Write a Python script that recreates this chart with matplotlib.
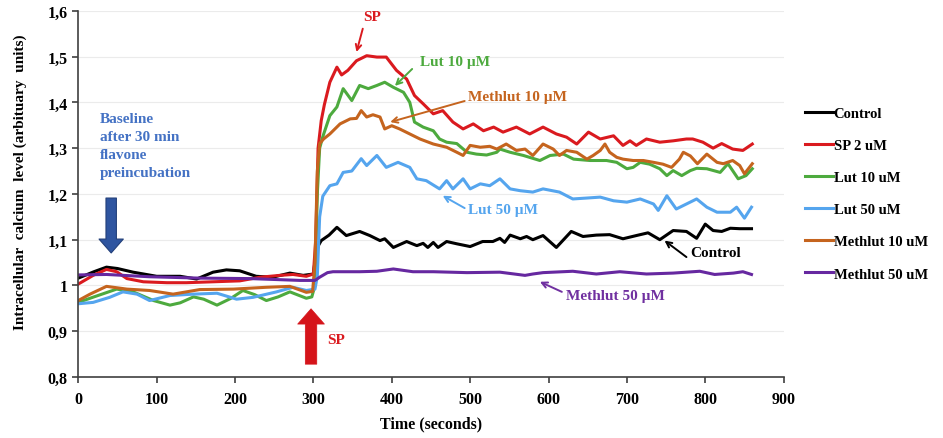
import numpy as np
import matplotlib
matplotlib.use('Agg')
import matplotlib.pyplot as plt

plt.rcParams['font.family'] = ['Liberation Serif', 'DejaVu Serif']
plt.rcParams['font.weight'] = 'bold'

# Data (time in seconds, intracellular calcium, arbitrary units)
t_control = [0, 20, 36, 50, 70, 100, 130, 151, 172, 189, 206, 227, 248, 270, 287, 300, 304, 310,
             320, 330, 342, 359, 372, 385, 391, 402, 419, 432, 440, 446, 453, 459, 470, 483, 500,
             516, 529, 538, 544, 551, 564, 572, 580, 593, 610, 629, 644, 661, 678, 695, 712, 727,
             742, 759, 776, 789, 800, 810, 821, 832, 844, 859]
v_control = [1.016, 1.03, 1.04, 1.037, 1.029, 1.02, 1.02, 1.014, 1.029, 1.034, 1.032, 1.02, 1.018,
             1.027, 1.022, 1.025, 1.08, 1.098, 1.11, 1.127, 1.109, 1.118, 1.109, 1.098, 1.102, 1.083,
             1.096, 1.087, 1.092, 1.083, 1.094, 1.083, 1.096, 1.091, 1.085, 1.096, 1.096, 1.103,
             1.094, 1.110, 1.102, 1.107, 1.10, 1.109, 1.083, 1.118, 1.107, 1.110, 1.111, 1.102,
             1.109, 1.115, 1.100, 1.120, 1.118, 1.103, 1.134, 1.12, 1.118, 1.125, 1.124, 1.124]

t_sp = [0, 19, 36, 49, 62, 83, 113, 138, 172, 206, 232, 257, 274, 291, 300, 303, 306, 310, 314,
        321, 330, 336, 344, 355, 368, 381, 393, 406, 419, 429, 440, 453, 465, 478, 491, 504, 517,
        530, 542, 559, 576, 593, 610, 623, 636, 651, 666, 683, 695, 704, 712, 725, 742, 759, 776,
        784, 797, 810, 821, 835, 848, 860]
v_sp = [1.003, 1.022, 1.035, 1.03, 1.015, 1.008, 1.006, 1.006, 1.008, 1.01, 1.018, 1.022, 1.024,
        1.02, 1.025, 1.10, 1.30, 1.36, 1.395, 1.444, 1.477, 1.46, 1.47, 1.491, 1.502, 1.499, 1.499,
        1.47, 1.451, 1.415, 1.397, 1.375, 1.382, 1.357, 1.342, 1.353, 1.338, 1.346, 1.335, 1.346,
        1.331, 1.346, 1.331, 1.324, 1.309, 1.335, 1.320, 1.327, 1.306, 1.316, 1.306, 1.32, 1.313,
        1.316, 1.32, 1.32, 1.313, 1.30, 1.31, 1.298, 1.295, 1.309]

t_lut10 = [0, 20, 49, 70, 96, 117, 130, 147, 160, 177, 195, 210, 225, 240, 255, 270, 291, 298, 302,
           305, 308, 312, 321, 330, 338, 349, 359, 370, 381, 391, 402, 415, 423, 429, 440, 453, 461,
           470, 483, 496, 508, 521, 534, 538, 551, 568, 589, 602, 619, 632, 653, 674, 687, 700, 708,
           717, 729, 742, 751, 759, 770, 781, 789, 802, 819, 829, 842, 852, 860]
v_lut10 = [0.963, 0.975, 0.992, 0.986, 0.967, 0.957, 0.962, 0.975, 0.97, 0.957, 0.972, 0.989, 0.98,
           0.967, 0.975, 0.986, 0.972, 0.975, 1.0, 1.2, 1.30, 1.325, 1.371, 1.39, 1.43, 1.404, 1.437,
           1.43, 1.437, 1.444, 1.433, 1.422, 1.40, 1.357, 1.346, 1.338, 1.32, 1.313, 1.31, 1.291,
           1.287, 1.285, 1.291, 1.298, 1.291, 1.284, 1.273, 1.284, 1.287, 1.276, 1.273, 1.273,
           1.269, 1.255, 1.258, 1.269, 1.265, 1.255, 1.24, 1.251, 1.24, 1.251, 1.256, 1.255, 1.247,
           1.266, 1.233, 1.24, 1.255]

t_lut50 = [0, 19, 40, 57, 75, 91, 117, 147, 177, 202, 223, 253, 274, 291, 302, 305, 308, 312, 321,
           330, 338, 349, 361, 368, 381, 393, 408, 423, 432, 444, 461, 470, 478, 491, 500, 513, 525,
           538, 551, 564, 580, 593, 614, 631, 649, 666, 683, 700, 717, 734, 740, 751, 763, 776, 789,
           802, 815, 832, 840, 850, 859]
v_lut50 = [0.96, 0.963, 0.974, 0.986, 0.981, 0.967, 0.978, 0.981, 0.983, 0.970, 0.974, 0.986, 0.996,
           0.989, 0.992, 1.02, 1.15, 1.195, 1.218, 1.222, 1.247, 1.25, 1.277, 1.262, 1.284, 1.258,
           1.269, 1.258, 1.233, 1.229, 1.211, 1.229, 1.211, 1.233, 1.211, 1.222, 1.218, 1.233,
           1.211, 1.207, 1.204, 1.211, 1.204, 1.189, 1.191, 1.193, 1.185, 1.182, 1.189, 1.178,
           1.164, 1.196, 1.167, 1.178, 1.189, 1.171, 1.16, 1.16, 1.171, 1.147, 1.171]

t_meth10 = [0, 15, 36, 62, 91, 121, 155, 198, 240, 270, 291, 299, 302, 305, 308, 313, 321, 334, 347,
            355, 361, 368, 376, 385, 391, 400, 410, 423, 436, 453, 470, 483, 491, 500, 513, 525, 534,
            546, 559, 570, 580, 593, 606, 614, 623, 636, 649, 657, 666, 672, 678, 687, 695, 708, 721,
            734, 746, 757, 767, 772, 781, 790, 802, 815, 823, 835, 844, 850, 860]
v_meth10 = [0.967, 0.981, 0.998, 0.992, 0.989, 0.981, 0.991, 0.992, 0.996, 0.998, 0.985, 0.987, 1.05,
            1.25, 1.31, 1.32, 1.331, 1.353, 1.364, 1.365, 1.382, 1.368, 1.373, 1.368, 1.342, 1.349,
            1.342, 1.331, 1.32, 1.309, 1.302, 1.291, 1.284, 1.306, 1.302, 1.304, 1.298, 1.309,
            1.295, 1.298, 1.284, 1.309, 1.298, 1.284, 1.295, 1.291, 1.276, 1.284, 1.295, 1.309,
            1.291, 1.280, 1.276, 1.273, 1.273, 1.269, 1.265, 1.258, 1.276, 1.291, 1.283, 1.266,
            1.287, 1.269, 1.266, 1.273, 1.262, 1.244, 1.266]

t_meth50 = [0, 36, 91, 155, 219, 283, 302, 308, 318, 325, 359, 381, 402, 427, 453, 496, 538, 570,
            580, 593, 631, 661, 691, 725, 759, 793, 812, 836, 848, 859]
v_meth50 = [1.023, 1.024, 1.019, 1.016, 1.015, 1.011, 1.011, 1.018, 1.028, 1.03, 1.03, 1.031, 1.036,
            1.03, 1.03, 1.028, 1.029, 1.022, 1.025, 1.028, 1.031, 1.025, 1.03, 1.025, 1.027, 1.031,
            1.024, 1.027, 1.03, 1.024]

yticks = [0.8, 0.9, 1.0, 1.1, 1.2, 1.3, 1.4, 1.5, 1.6]
ytick_labels = ['0,8', '0,9', '1', '1,1', '1,2', '1,3', '1,4', '1,5', '1,6']
xticks = [0, 100, 200, 300, 400, 500, 600, 700, 800, 900]

fig = plt.figure(figsize=(9.43, 4.39), dpi=100)
ax = fig.add_axes([0.083, 0.139, 0.748, 0.834])

lw = 2.2
ax.plot(t_control, v_control, color='#000000', lw=lw, label='Control')
ax.plot(t_sp, v_sp, color='#DA1A1F', lw=lw, label='SP 2 uM')
ax.plot(t_lut10, v_lut10, color='#4DAA3E', lw=lw, label='Lut 10 uM')
ax.plot(t_lut50, v_lut50, color='#55A5EE', lw=lw, label='Lut 50 uM')
ax.plot(t_meth10, v_meth10, color='#C5641E', lw=lw, label='Methlut 10 uM')
ax.plot(t_meth50, v_meth50, color='#6628A0', lw=lw, label='Methlut 50 uM')

ax.set_xlim(0, 900)
ax.set_ylim(0.8, 1.6)
ax.set_xticks(xticks)
ax.set_yticks(yticks)
ax.set_yticklabels(ytick_labels)
ax.tick_params(labelsize=11.5, length=4, width=1.2, color='#404040')
ax.tick_params(axis='x', pad=6)
ax.grid(axis='y', color='#EBEBEB', lw=0.8)
ax.set_axisbelow(True)
for s in ['top', 'right']:
    ax.spines[s].set_visible(False)
for s in ['left', 'bottom']:
    ax.spines[s].set_color('#404040')
    ax.spines[s].set_linewidth(1.2)

ax.set_xlabel('Time (seconds)', fontsize=11.5, fontweight='bold')
ax.xaxis.set_label_coords(0.5, -0.105)
ax.set_ylabel('Intracellular  calcium  level (arbituary  units)', fontsize=11, fontweight='bold')
ax.yaxis.set_label_coords(-0.073, 0.535)

fig.legend(loc='upper left', bbox_to_anchor=(0.84, 0.785), frameon=False, fontsize=10.5,
           handlelength=1.9, handletextpad=0.05, labelspacing=1.3)

# label arrows
def label(txt, xy, xytext, color, tx, ty):
    ax.annotate('', xy=xy, xytext=xytext,
                arrowprops=dict(arrowstyle='->', color=color, lw=1.4, shrinkA=0, shrinkB=0))
    ax.text(tx, ty, txt, color=color, fontsize=11, fontweight='bold', ha='center', va='center')

label('SP', (355, 1.51), (363, 1.561), '#DA1A1F', 375, 1.587)
label('Lut 10 µM', (404, 1.436), (426, 1.473), '#4DAA3E', 481, 1.489)
label('Methlut 10 µM', (398, 1.357), (493, 1.403), '#C5641E', 560, 1.412)
label('Lut 50 µM', (465, 1.196), (493, 1.169), '#55A5EE', 542, 1.167)
label('Control', (748, 1.098), (776, 1.062), '#000000', 813, 1.073)
label('Methlut 50 µM', (589, 1.008), (617, 0.986), '#7030A0', 686, 0.977)

ax.text(28, 1.378, 'Baseline\nafter 30 min\nflavone\npreincubation', color='#4472C4',
        fontsize=11, fontweight='bold', ha='left', va='top', linespacing=1.5)

big = 'simple,head_length=1.0,head_width=1.75,tail_width=0.75'
ax.annotate('', xy=(42, 1.071), xytext=(42, 1.191),
            arrowprops=dict(arrowstyle=big, mutation_scale=10, fc='#2F55A0', ec='#23407A',
                            lw=0.8, shrinkA=0, shrinkB=0))
ax.annotate('', xy=(297, 0.949), xytext=(297, 0.828),
            arrowprops=dict(arrowstyle=big, mutation_scale=11, fc='#D5141A', ec='#D5141A',
                            lw=0.5, shrinkA=0, shrinkB=0))
ax.text(329, 0.881, 'SP', color='#DA1A1F', fontsize=11, fontweight='bold', ha='center', va='center')

plt.savefig('out.png', dpi=100)
